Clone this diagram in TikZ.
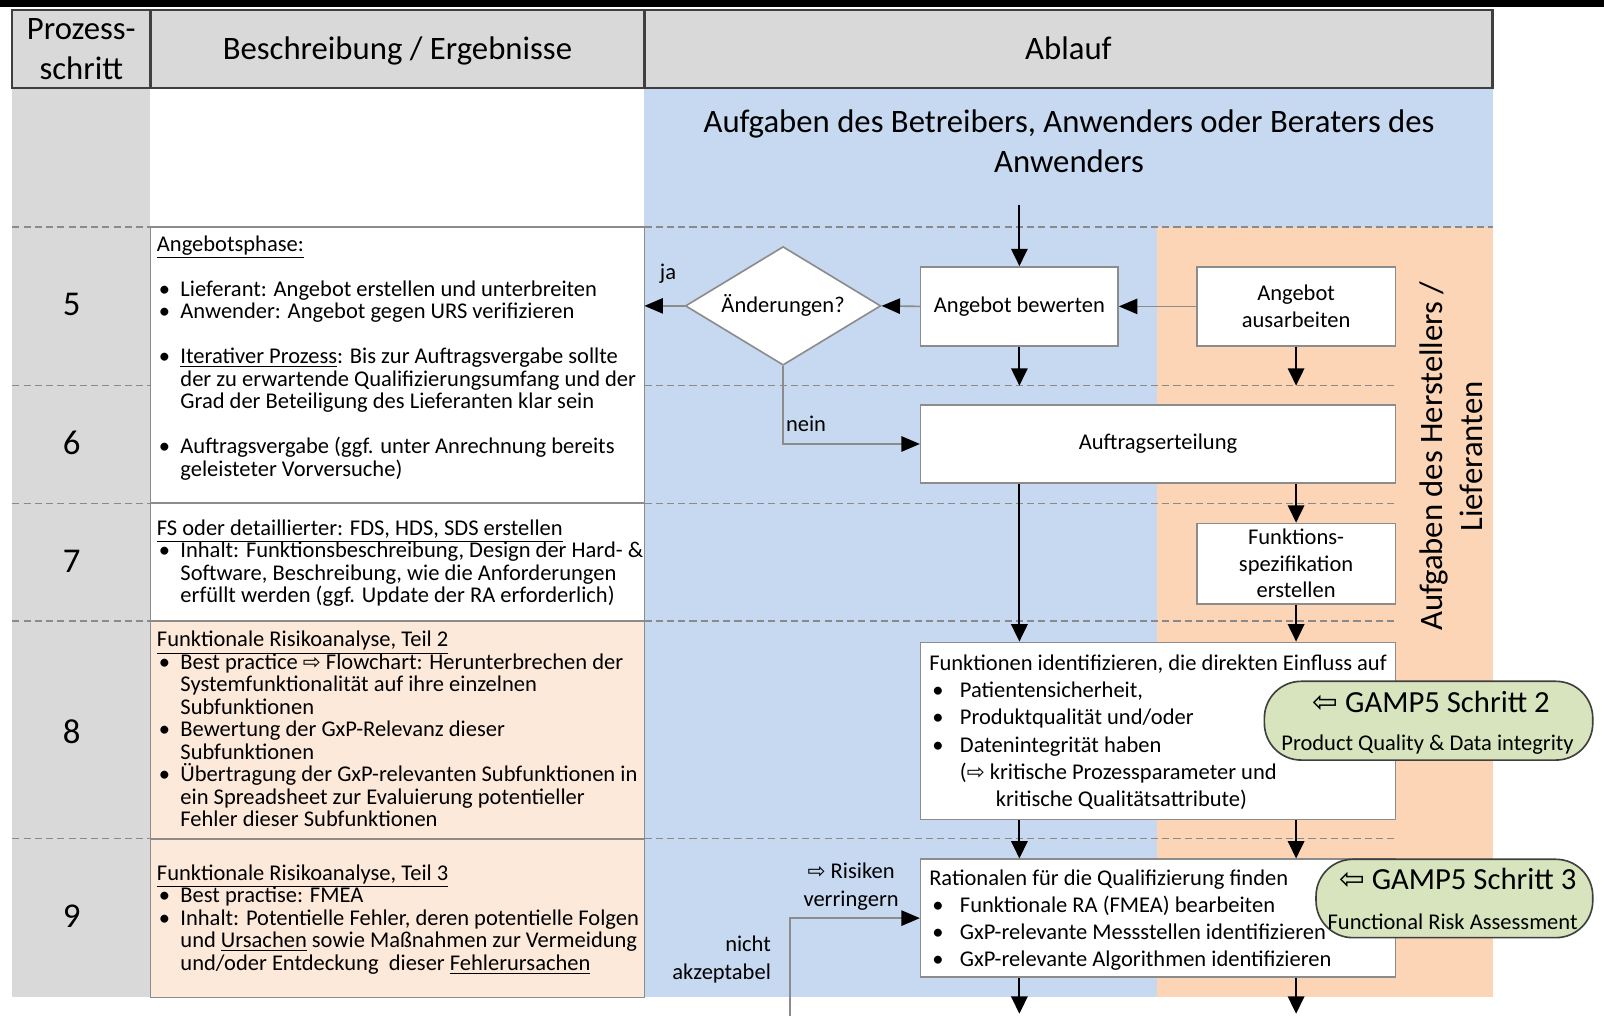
\documentclass[tikz,border=0pt]{standalone}
\usepackage{fontspec}
\setmainfont{Carlito}
\newfontfamily\symfont{DejaVu Sans}
\usetikzlibrary{arrows.meta,shapes.geometric}

\definecolor{cellgray}{HTML}{D9D9D9}
\definecolor{laneblue}{HTML}{C6D9F0}
\definecolor{lanepeach}{HTML}{FBD5B5}
\definecolor{notepeach}{HTML}{FDE9D9}
\definecolor{gampgreen}{HTML}{D7E4BD}
\definecolor{edgegray}{HTML}{8C8C8C}
\definecolor{framedark}{HTML}{3F3F3F}
\definecolor{dashgray}{HTML}{8A8A8A}

\newcommand\bodyfont{\fontsize{11}{11}\selectfont\lineskiplimit=-20pt}
\newcommand\widefont{\fontsize{11}{13.3}\selectfont\lineskiplimit=-20pt}
\newcommand\flowfont{\fontsize{11}{13}\selectfont}
\newcommand\bigfont{\fontsize{16}{19.5}\selectfont}
\newcommand\rarrow{{\symfont\fontsize{10.5}{11}\selectfont ⇨}}
\newcommand\larrow{{\symfont\fontsize{15}{16}\selectfont ⇦}}
\newcommand\firstline{\rule{0pt}{9pt}}
\newcommand\bpoint[1]{\makebox[11.5pt][l]{\hspace{1pt}\textbullet}#1}
\newcommand\bcont{\hspace*{11.5pt}}
\newcommand\bwide[1]{\makebox[15pt][l]{\hspace{1.5pt}\textbullet}#1}

\begin{document}
\begin{tikzpicture}[x=0.5pt,y=-0.5pt,
  notetext/.style={anchor=north west, inner sep=0pt, align=left, font=\bodyfont},
  flowtext/.style={anchor=north west, inner sep=0pt, align=left, font=\widefont},
  flowbox/.style={draw=edgegray, fill=white, line width=0.8pt, inner sep=0pt,
    align=center, font=\flowfont},
  notebox/.style={draw=edgegray, line width=0.8pt},
  rowline/.style={draw=dashgray, line width=0.6pt, dash pattern=on 3.5pt off 2pt},
  vflow/.style={draw=black, line width=1pt, -{Triangle[length=8.5pt,width=8pt]}},
  hflow/.style={draw=edgegray, line width=0.8pt, -{Triangle[length=9pt,width=7.5pt,color=black]}},
  gamp/.style={draw=framedark, fill=gampgreen, line width=0.8pt, rounded corners=18pt},
  lbl/.style={inner sep=0pt, font=\bodyfont, align=center}
]
\useasboundingbox (0,0) rectangle (1568,993);

% top strip
\fill[black] (0,0) rectangle (1568,7);

% lane backgrounds
\fill[cellgray] (12,86) rectangle (147,975);
\fill[laneblue] (630,86) rectangle (1459,975);
\fill[lanepeach] (1131,222) rectangle (1459,975);

% header row
\draw[fill=cellgray, draw=framedark, line width=1.1pt] (12,10) rectangle (1459,86);
\draw[draw=framedark, line width=1.1pt] (147,10) -- (147,86) (630,10) -- (630,86);
\node[font=\bigfont, align=center, inner sep=0pt] (hstep) at (79.5,48) {Prozess-\\schritt};
\node[font=\bigfont, inner sep=0pt] (hdesc) at (388.5,50) {Beschreibung / Ergebnisse};
\node[font=\bigfont, inner sep=0pt] (hflowhdr) at (1044.5,47) {Ablauf};

% operator lane title
\node[font=\bigfont, align=center, inner sep=0pt] (opertitle) at (1045,138)
  {Aufgaben des Betreibers, Anwenders oder Beraters des\\Anwenders};

% supplier lane title
\node[font=\bigfont, align=center, inner sep=0pt, rotate=90] (supptitle) at (1419,446)
  {Aufgaben des Herstellers /\\Lieferanten};

% row separators
\foreach \yy in {222} {
  \draw[rowline] (12,\yy) -- (147,\yy);
  \draw[rowline] (630,\yy) -- (1459,\yy);
}
\foreach \yy in {377,492,607,820} {
  \draw[rowline] (12,\yy) -- (147,\yy);
  \draw[rowline] (630,\yy) -- (1364,\yy);
}

% description cells
\draw[notebox, fill=white] (147,222) rectangle (630,492);
\draw[notebox, fill=white] (147,492) rectangle (630,607);
\draw[notebox, fill=notepeach] (147,607) rectangle (630,820);
\draw[notebox, fill=notepeach] (147,820) rectangle (630,975);

% step numbers
\foreach \num/\yy in {5/298,6/433,7/549,8/715,9/896}
  \node[font=\fontsize{17}{20}\selectfont, inner sep=0pt] (step\num) at (70,\yy) {\num};

% description texts
\node[notetext] (desc5) at (153,227) {\firstline\underline{Angebotsphase:}\\
\mbox{}\\
\bpoint{Lieferant: Angebot erstellen und unterbreiten}\\
\bpoint{Anwender: Angebot gegen URS verifizieren}\\
\mbox{}\\
\bpoint{\underline{Iterativer Prozess}: Bis zur Auftragsvergabe sollte}\\
\bcont der zu erwartende Qualifizierungsumfang und der\\
\bcont Grad der Beteiligung des Lieferanten klar sein\\
\mbox{}\\
\bpoint{Auftragsvergabe (ggf. unter Anrechnung bereits}\\
\bcont geleisteter Vorversuche)};

\node[notetext] (desc7) at (153,505) {\firstline\underline{FS oder detaillierter: FDS, HDS, SDS erstellen}\\
\bpoint{Inhalt: Funktionsbeschreibung, Design der Hard- \&}\\
\bcont Software, Beschreibung, wie die Anforderungen\\
\bcont erfüllt werden (ggf. Update der RA erforderlich)};

\node[notetext] (desc8) at (153,614) {\firstline\underline{Funktionale Risikoanalyse, Teil 2}\\
\bpoint{Best practice \rarrow\ Flowchart: Herunterbrechen der}\\
\bcont Systemfunktionalität auf ihre einzelnen\\
\bcont Subfunktionen\\
\bpoint{Bewertung der GxP-Relevanz dieser}\\
\bcont Subfunktionen\\
\bpoint{Übertragung der GxP-relevanten Subfunktionen in}\\
\bcont ein Spreadsheet zur Evaluierung potentieller\\
\bcont Fehler dieser Subfunktionen};

\node[notetext] (desc9) at (153,842) {\firstline\underline{Funktionale Risikoanalyse, Teil 3}\\
\bpoint{Best practise: FMEA}\\
\bpoint{Inhalt: Potentielle Fehler, deren potentielle Folgen}\\
\bcont und \underline{Ursachen} sowie Maßnahmen zur Vermeidung\\
\bcont und/oder Entdeckung\ \ dieser \underline{Fehlerursachen}};

% flow nodes
\node[flowbox, minimum width=96.5pt, minimum height=38.5pt] (bew) at (996.5,299.5) {Angebot bewerten};
\node[flowbox, minimum width=97pt, minimum height=38.5pt] (aus) at (1267,299.5) {Angebot\\ausarbeiten};
\node[diamond, draw=edgegray, fill=white, line width=0.8pt, inner sep=0pt,
  minimum width=95.5pt, minimum height=58pt] (chg) at (765.5,299) {};
\node[font=\flowfont, inner sep=0pt] (chgtext) at (chg) {Änderungen?};
\node[flowbox, minimum width=232pt, minimum height=38pt] (auftr) at (1132,434) {Auftragserteilung};
\node[flowbox, minimum width=97pt, minimum height=39.25pt] (fsp) at (1267,551) {Funktions-\\spezifikation\\erstellen};
\node[flowbox, minimum width=232pt, minimum height=86.5pt] (fkt) at (1132,714.5) {};
\node[flowbox, minimum width=232pt, minimum height=57.5pt] (rat) at (1132,897.5) {};

\node[flowtext] (fkttext) at (908,637) {\firstline Funktionen identifizieren, die direkten Einfluss auf\\
\bwide{Patientensicherheit,}\\
\bwide{Produktqualität und/oder}\\
\bwide{Datenintegrität haben}\\
\hspace*{15pt}(\rarrow\ kritische Prozessparameter und\\
\hspace*{32.5pt}kritische Qualitätsattribute)};

\node[flowtext] (rattext) at (908,847) {\firstline Rationalen für die Qualifizierung finden\\
\bwide{Funktionale RA (FMEA) bearbeiten}\\
\bwide{GxP-relevante Messstellen identifizieren}\\
\bwide{GxP-relevante Algorithmen identifizieren}};

% free connector ends
\coordinate (entry) at (996.5,200);
\coordinate (row6) at (996.5,377);
\coordinate (jaend) at (630,299);
\coordinate (exitA) at (996.5,991);
\coordinate (exitB) at (1267,991);
\coordinate (loopfoot) at (772,993);

% connectors
\draw[vflow] (entry) -- (bew.north);
\draw[hflow] (aus.west) -- (bew.east);
\draw[hflow] (bew.west) -- (chg.east);
\draw[hflow] (chg.west) -- (jaend);
\draw[hflow] (chg.south) |- (auftr.west);
\draw[vflow] (bew.south) -- (bew.south |- row6);
\draw[vflow] (aus.south) -- (aus.south |- row6);
\draw[vflow] (auftr.south -| bew) -- (fkt.north -| bew);
\draw[vflow] (auftr.south -| aus) -- (fsp.north);
\draw[vflow] (fsp.south) -- (fkt.north -| fsp);
\draw[vflow] (fkt.south -| bew) -- (rat.north -| bew);
\draw[vflow] (fkt.south -| fsp) -- (rat.north -| fsp);
\draw[vflow] (rat.south -| bew) -- (exitA);
\draw[vflow] (rat.south -| fsp) -- (exitB);
\draw[hflow] (loopfoot) |- (rat.west);

% connector labels
\node[lbl] (jalbl) at (653,268) {ja};
\node[lbl, anchor=west] (neinlbl) at (768,414) {nein};
\node[lbl] (risklbl) at (832,867) {\rarrow\ Risiken\\[2.5pt]verringern};
\node[lbl, align=right, anchor=east] (nichtlbl) at (754,938) {nicht\\[2.5pt]akzeptabel};

% GAMP5 references
\node[gamp, minimum width=160.5pt, minimum height=38.5pt, inner sep=0pt] (gamp2) at (1396.5,704.5) {};
\node[font=\fontsize{15}{18}\selectfont, inner sep=0pt] (gamp2a) at (1399,686) {\larrow\ GAMP5 Schritt 2};
\node[lbl] (gamp2b) at (1395.5,728) {Product Quality \& Data integrity};
\node[gamp, minimum width=135.25pt, minimum height=38.3pt, inner sep=0pt] (gamp3) at (1421.75,878.3) {};
\node[font=\fontsize{15}{18}\selectfont, inner sep=0pt] (gamp3a) at (1425,859) {\larrow\ GAMP5 Schritt 3};
\node[lbl] (gamp3b) at (1420,901) {Functional Risk Assessment};
\end{tikzpicture}
\end{document}
